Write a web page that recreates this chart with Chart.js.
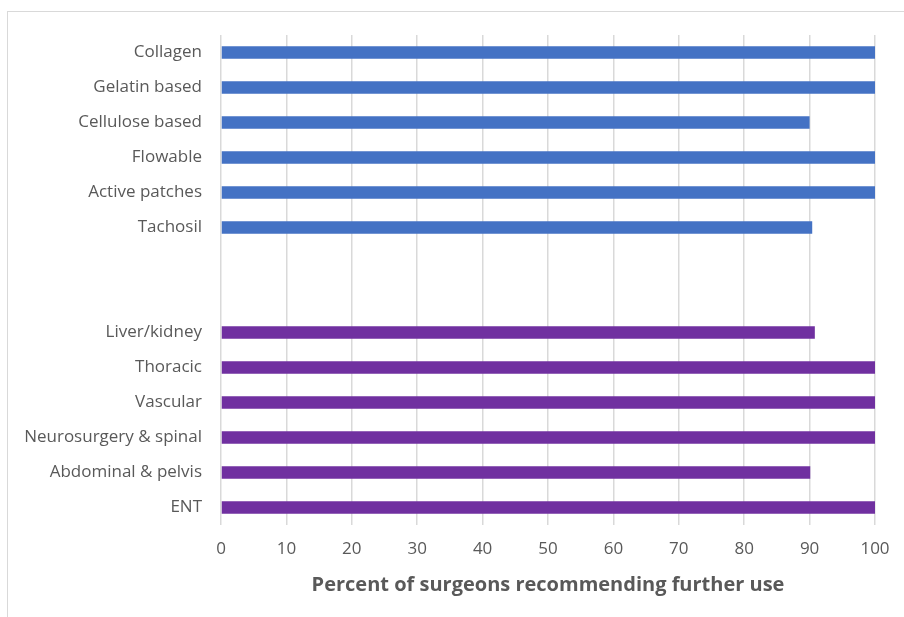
<!DOCTYPE html>
<html>
<head>
<meta charset="utf-8">
<script src="https://cdn.jsdelivr.net/npm/chart.js@4"></script>
<style>
html,body{margin:0;padding:0;background:#fff;}
#wrap{position:relative;width:904px;height:617px;}
</style>
</head>
<body>
<div id="wrap"><canvas id="c" width="904" height="617"></canvas></div>
<script>
const productCategories = ['Collagen','Gelatin based','Cellulose based','Flowable','Active patches','Tachosil'];
const productValues = [100, 100, 90, 100, 100, 90.4];
const specialtyCategories = ['Liver/kidney','Thoracic','Vascular','Neurosurgery & spinal','Abdominal & pelvis','ENT'];
const specialtyValues = [90.8, 100, 100, 100, 90.1, 100];
const xTicks = [0,10,20,30,40,50,60,70,80,90,100];
const gapLabels = ['', ''];

const labels = [...productCategories, ...gapLabels, ...specialtyCategories];
const nullsP = new Array(gapLabels.length + specialtyCategories.length).fill(null);
const nullsS = new Array(productCategories.length + gapLabels.length).fill(null);

const frame = {
  id: 'frame',
  beforeDraw(chart) {
    const ctx = chart.ctx;
    ctx.save();
    ctx.fillStyle = '#fff';
    ctx.fillRect(0, 0, chart.width, chart.height);
    ctx.strokeStyle = '#d9d9d9';
    ctx.lineWidth = 1;
    ctx.strokeRect(7.5, 11.5, 1000, 700);
    ctx.restore();
  }
};

const FONT = "'Open Sans', sans-serif";

new Chart(document.getElementById('c'), {
  type: 'bar',
  data: {
    labels: labels,
    datasets: [
      { data: [...productValues, ...nullsP], backgroundColor: '#4472c4', categoryPercentage: 1, barPercentage: 0.36, grouped: false },
      { data: [...nullsS, ...specialtyValues], backgroundColor: '#7030a0', categoryPercentage: 1, barPercentage: 0.36, grouped: false }
    ]
  },
  options: {
    indexAxis: 'y',
    responsive: false,
    animation: false,
    devicePixelRatio: 1,
    layout: { padding: { left: 0, right: 29, top: 35, bottom: 20 } },
    plugins: { legend: { display: false }, tooltip: { enabled: false } },
    scales: {
      x: {
        min: 0, max: 100,
        afterBuildTicks(axis) { axis.ticks = xTicks.map(v => ({ value: v })); },
        grid: { color: '#d9d9d9', lineWidth: 1.5, drawTicks: false },
        border: { display: false },
        ticks: { color: '#595959', font: { family: FONT, size: 17 }, padding: 14 },
        title: { display: true, text: 'Percent of surgeons recommending further use', color: '#595959', font: { family: FONT, size: 20, weight: 'bold' }, padding: { top: 6, bottom: 0 } },
        afterFit(axis) { axis.height = 72; }
      },
      y: {
        grid: { display: false, drawTicks: false },
        border: { display: false },
        ticks: { color: '#595959', font: { family: FONT, size: 17 }, padding: 19, autoSkip: false },
        afterFit(axis) { axis.width = 221; }
      }
    }
  },
  plugins: [frame]
});
</script>
</body>
</html>
